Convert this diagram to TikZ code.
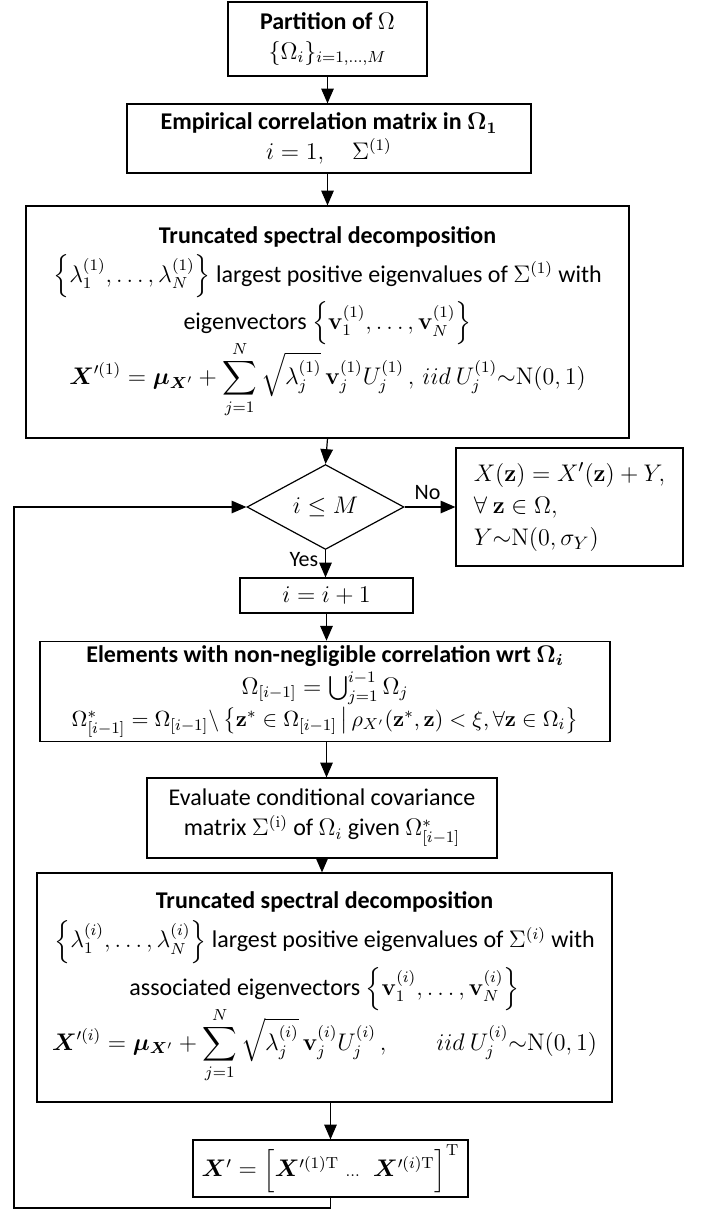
\documentclass[tikz,border=0pt]{standalone}
\usepackage{amsmath}
\usepackage{bm}
\usepackage[no-math]{fontspec}
\setmainfont{Carlito}
\usetikzlibrary{arrows.meta, shapes.geometric}

\begin{document}
\begin{tikzpicture}[x=0.5pt, y=-0.5pt, >={Triangle[length=2.6mm, width=2.2mm]}, line width=0.6pt,
  box/.style={draw, align=center, inner sep=2pt, font=\fontsize{12}{15}\selectfont},
  test/.style={draw, diamond, inner sep=0pt, font=\fontsize{12}{15}\selectfont},
  lbl/.style={font=\fontsize{11}{13}\selectfont}]
  \useasboundingbox (0,0) rectangle (702,1215);
  % main chain
  \node[box, minimum width=99.5pt, minimum height=37pt] (part) at (327.5,39)
    {\textbf{Partition of $\Omega$}\\ $\{\Omega_i\}_{i=1,\dots,M}$};
  \node[box, minimum width=202pt, minimum height=34.5pt] (emp) at (329,138.5)
    {\textbf{Empirical correlation matrix in $\bm{\Omega_1}$}\\ $i=1,\quad \Sigma^{(1)}$};
  \node[box, minimum width=301.5pt, minimum height=116pt] (tsd1) at (327.5,322)
    {\textbf{Truncated spectral decomposition}\\[3pt]
     $\left\{\lambda_1^{(1)},\dots,\lambda_N^{(1)}\right\}$ largest positive eigenvalues of $\Sigma^{(1)}$ with\\[1pt]
     eigenvectors $\left\{\mathbf{v}_1^{(1)},\dots,\mathbf{v}_N^{(1)}\right\}$\\[-3pt]
     {\fontsize{11.5}{14}\selectfont$\displaystyle \bm{X}'^{(1)}=\bm{\mu}_{\bm{X}'}+\sum_{j=1}^{N}\sqrt{\lambda_j^{(1)}}\,\mathbf{v}_j^{(1)}U_j^{(1)}\,,\,iid\ U_j^{(1)}{\sim}\mathrm{N}(0,1)$}};
  \node[test, minimum width=78.5pt, minimum height=41pt] (cond) at (325.5,507) {$i\le M$};
  \node[box, align=left, minimum width=113.5pt, minimum height=59pt, font=\fontsize{12.5}{16}\selectfont] (out) at (569.5,507)
    {$X(\mathbf{z})=X'(\mathbf{z})+Y,$\\ $\forall\ \mathbf{z}\in\Omega,$\\ $Y{\sim}\mathrm{N}(0,\sigma_Y)$};
  \node[box, minimum width=86.5pt, minimum height=17.5pt] (incr) at (326.5,595.5) {$i=i+1$};
  \node[box, minimum width=285pt, minimum height=49.5pt] (elem) at (325,691.5)
    {\textbf{Elements with non-negligible correlation wrt $\bm{\Omega_i}$}\\[1pt]
     $\Omega_{[i-1]}=\bigcup_{j=1}^{i-1}\Omega_j$\\[1pt]
     {\fontsize{10.8}{13}\selectfont$\Omega^*_{[i-1]}=\Omega_{[i-1]}\backslash\left\{\mathbf{z}^*\in\Omega_{[i-1]}\,\middle|\,\rho_{X'}(\mathbf{z}^*,\mathbf{z})<\xi,\forall\mathbf{z}\in\Omega_i\right\}$}};
  \node[box, minimum width=175pt, minimum height=40pt] (eval) at (322,818)
    {Evaluate conditional covariance\\ matrix $\Sigma^{(\mathrm{i})}$ of $\Omega_i$ given $\Omega^*_{[i-1]}$};
  \node[box, minimum width=287.5pt, minimum height=114.5pt] (tsd2) at (324.5,987.5)
    {\textbf{Truncated spectral decomposition}\\[3pt]
     $\left\{\lambda_1^{(i)},\dots,\lambda_N^{(i)}\right\}$ largest positive eigenvalues of $\Sigma^{(i)}$ with\\[1pt]
     associated eigenvectors $\left\{\mathbf{v}_1^{(i)},\dots,\mathbf{v}_N^{(i)}\right\}$\\[-3pt]
     {\fontsize{11.5}{14}\selectfont$\displaystyle \bm{X}'^{(i)}=\bm{\mu}_{\bm{X}'}+\sum_{j=1}^{N}\sqrt{\lambda_j^{(i)}}\,\mathbf{v}_j^{(i)}U_j^{(i)}\,,\qquad iid\ U_j^{(i)}{\sim}\mathrm{N}(0,1)$}};
  \node[box, minimum width=137.5pt, minimum height=28.5pt] (assem) at (330.5,1168.5)
    {$\bm{X}'=\Bigl[\bm{X}'^{(1)\mathrm{T}}\;{\scriptstyle\dots}\;\;\bm{X}'^{(i)\mathrm{T}}\Bigr]^{\mathrm{T}}$};
  % connectors
  \draw[->] (part.south) -- (part.south |- emp.north);
  \draw[->] (tsd1.north |- emp.south) -- (tsd1.north);
  \draw[->] (tsd1.south) -- (cond.north);
  \draw[->] (cond.east) -- (out.west) node[lbl, pos=0.45, above]{No};
  \draw[->] (cond.south) -- (cond.south |- incr.north) node[lbl, pos=0.35, left]{Yes};
  \draw[->] (incr.south) -- (incr.south |- elem.north);
  \draw[->] (incr.south |- elem.south) -- (incr.south |- eval.north);
  \draw[->] (eval.south) -- (eval.south |- tsd2.north);
  \draw[->] (assem.north |- tsd2.south) -- (assem.north);
  % loop back to the test
  \coordinate (back) at (14,1208);
  \draw[->] (assem.south) |- (back) |- (cond.west);
\end{tikzpicture}
\end{document}
